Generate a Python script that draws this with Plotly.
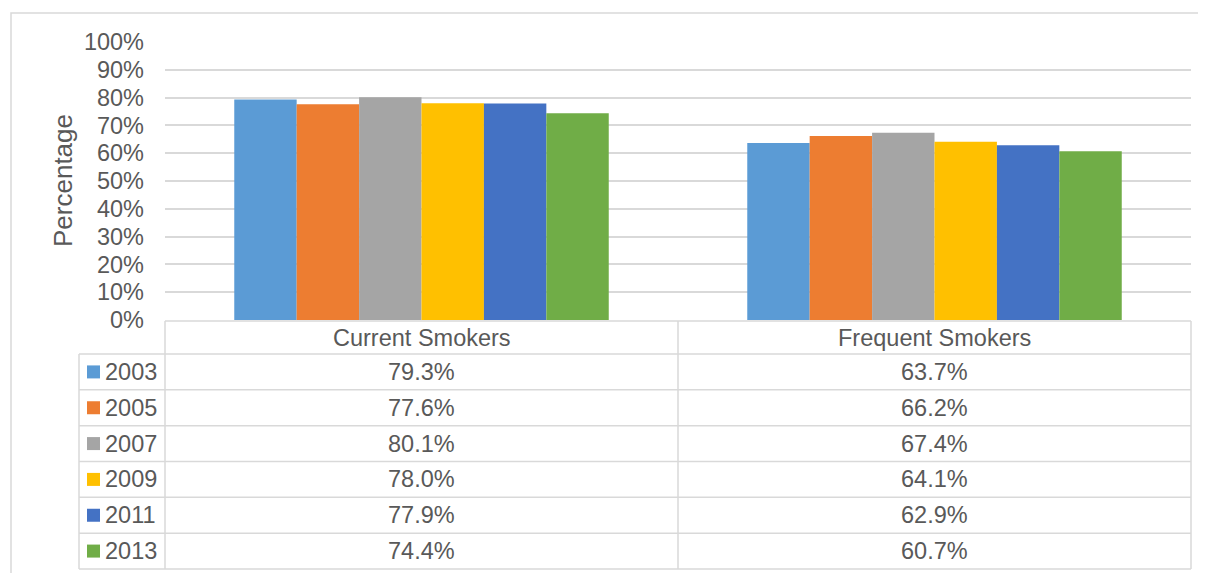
import plotly.graph_objects as go

categories = ["Current Smokers", "Frequent Smokers"]
years = ["2003", "2005", "2007", "2009", "2011", "2013"]
values = {
    "2003": [79.3, 63.7],
    "2005": [77.6, 66.2],
    "2007": [80.1, 67.4],
    "2009": [78.0, 64.1],
    "2011": [77.9, 62.9],
    "2013": [74.4, 60.7],
}
colors = ["#5B9BD5", "#ED7D31", "#A5A5A5", "#FFC000", "#4472C4", "#70AD47"]
y_ticks = [i / 10 for i in range(11)]
y_tick_labels = [f"{i * 10}%" for i in range(11)]

OFF = 8  # page body margin
W, H = 1206 - OFF, 573 - OFF
# plot area in page pixel coordinates
L, R, T, B = 165, 1191, 42, 320
TXT = "#595959"
GRID = "#D9D9D9"
FONT = "Liberation Sans, Arial, sans-serif"
FS = 23.5


def px(xp):
    return (xp - L) / (R - L)


def py(yp):
    return (B - yp) / (B - T)


fig = go.Figure()
for yr, c in zip(years, colors):
    fig.add_trace(go.Bar(
        name=yr, x=categories, y=[v / 100 for v in values[yr]],
        marker=dict(color=c, line=dict(width=0)),
    ))

shapes = []
annotations = []

# outer chart border
shapes.append(dict(type="rect", xref="paper", yref="paper",
                   x0=px(11), x1=px(1215), y0=py(13), y1=py(590),
                   line=dict(color=GRID, width=1.5), layer="below"))

# data table geometry
header_top, header_bot = 321, 354
row_h = (569 - header_bot) / len(years)
row_edges = [header_bot + i * row_h for i in range(len(years) + 1)]
key_left = 79
mid = (L + R) / 2

line_style = dict(color=GRID, width=1.5)
shapes.append(dict(type="line", xref="paper", yref="paper",
                   x0=px(L), x1=px(R), y0=py(header_top), y1=py(header_top), line=line_style))
for ye in row_edges:
    shapes.append(dict(type="line", xref="paper", yref="paper",
                       x0=px(key_left), x1=px(R), y0=py(ye), y1=py(ye), line=line_style))
for xv in [L, mid, R]:
    shapes.append(dict(type="line", xref="paper", yref="paper",
                       x0=px(xv), x1=px(xv), y0=py(header_top), y1=py(row_edges[-1]), line=line_style))
shapes.append(dict(type="line", xref="paper", yref="paper",
                   x0=px(key_left), x1=px(key_left), y0=py(header_bot), y1=py(row_edges[-1]), line=line_style))

for i, cat in enumerate(categories):
    annotations.append(dict(xref="x", yref="paper", x=cat, y=py((header_top + header_bot) / 2),
                            text=cat, showarrow=False, xanchor="center", yanchor="middle",
                            font=dict(size=FS, color=TXT, family=FONT)))

for r, (yr, c) in enumerate(zip(years, colors)):
    yc = (row_edges[r] + row_edges[r + 1]) / 2
    shapes.append(dict(type="rect", xref="paper", yref="paper",
                       x0=px(87), x1=px(100), y0=py(yc - 6.5), y1=py(yc + 6.5),
                       fillcolor=c, line=dict(width=0)))
    annotations.append(dict(xref="paper", yref="paper", x=px(103), y=py(yc),
                            text=yr, showarrow=False, xanchor="left", yanchor="middle",
                            font=dict(size=FS, color=TXT, family=FONT)))
    for j, cat in enumerate(categories):
        annotations.append(dict(xref="x", yref="paper", x=cat, y=py(yc),
                                text=f"{values[yr][j]:.1f}%", showarrow=False,
                                xanchor="center", yanchor="middle",
                                font=dict(size=FS, color=TXT, family=FONT)))

annotations.append(dict(xref="paper", yref="paper", x=px(63), y=py((T + B) / 2),
                        text="Percentage", textangle=-90, showarrow=False,
                        xanchor="center", yanchor="middle",
                        font=dict(size=26, color=TXT, family=FONT)))

fig.update_layout(
    width=W, height=H,
    margin=dict(l=L - OFF, r=W - (R - OFF), t=T - OFF, b=H - (B - OFF), pad=0),
    paper_bgcolor="white", plot_bgcolor="white",
    barmode="group", bargap=0.27, bargroupgap=0,
    showlegend=False,
    font=dict(family=FONT, color=TXT, size=FS),
    xaxis=dict(showticklabels=False, showgrid=False, zeroline=False, showline=False,
               range=[-0.5, 1.5], fixedrange=True),
    yaxis=dict(range=[0, 1], tickvals=y_ticks, ticktext=y_tick_labels,
               showgrid=True, gridcolor=GRID, gridwidth=1.5, zeroline=False,
               showline=False, ticks="", ticklabelstandoff=20,
               tickfont=dict(size=FS, color=TXT, family=FONT), fixedrange=True),
    shapes=shapes,
    annotations=annotations,
)

fig.write_html("out.html")
